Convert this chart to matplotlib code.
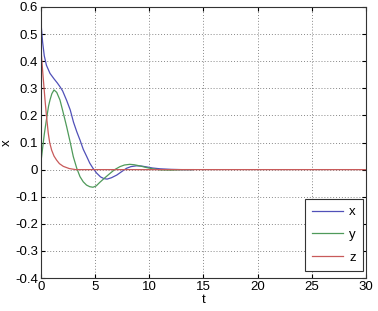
import matplotlib.pyplot as plt

# values
t_x = [0, 0.15, 0.3, 0.5, 0.83, 1.2, 1.5, 1.75, 2.0, 2.37, 2.7, 3.0, 3.3, 3.6, 3.9, 4.2, 4.5,
       4.8, 5.14, 5.5, 5.8, 6.1, 6.5, 7.0, 7.5, 7.9, 8.3, 8.8, 9.3, 9.75, 10.3, 11, 12, 13, 14]
x_vals = [0.54, 0.47, 0.42, 0.385, 0.355, 0.335, 0.32, 0.306, 0.29, 0.255, 0.22, 0.175, 0.14, 0.109,
          0.075, 0.05, 0.024, 0.005, -0.013, -0.027, -0.033, -0.035, -0.03, -0.02, -0.006, 0.005,
          0.011, 0.014, 0.013, 0.01, 0.006, 0.003, 0.001, 0.0, 0.0]

t_y = [0, 0.15, 0.3, 0.52, 0.7, 0.83, 1.0, 1.2, 1.45, 1.75, 2.05, 2.37, 2.7, 2.98, 3.3, 3.6, 3.9,
       4.2, 4.5, 4.8, 5.1, 5.4, 5.9, 6.37, 6.8, 7.29, 7.7, 8.2, 8.6, 9.1, 9.7, 10.3, 11, 12, 13, 14]
y_vals = [0.03, 0.08, 0.13, 0.19, 0.235, 0.257, 0.28, 0.294, 0.285, 0.257, 0.21, 0.158, 0.1, 0.048,
          0.005, -0.026, -0.045, -0.057, -0.063, -0.065, -0.06, -0.048, -0.03, -0.014, 0.0, 0.011,
          0.017, 0.0195, 0.018, 0.014, 0.008, 0.003, -0.001, -0.002, 0.0, 0.0]

t_z = [0, 0.1, 0.2, 0.37, 0.5, 0.67, 0.8, 0.98, 1.2, 1.44, 1.7, 2.06, 2.6, 3.2, 30]
z_vals = [0.44, 0.39, 0.34, 0.257, 0.2, 0.134, 0.1, 0.072, 0.05, 0.035, 0.022, 0.012, 0.004, 0.0, 0.0]

plt.rcParams["font.family"] = ["Liberation Sans", "DejaVu Sans"]

fig = plt.figure(figsize=(3.78, 3.11), dpi=100)
ax = fig.add_axes([0.1085, 0.106, 0.8595, 0.8715])

ax.plot(t_x, x_vals, color="#5050b8", lw=0.9, label="x")
ax.plot(t_y, y_vals, color="#4f9a5a", lw=0.9, label="y")
ax.plot(t_z, z_vals, color="#c85a5a", lw=0.9, label="z")

ax.set_xlim(0, 30)
ax.set_ylim(-0.4, 0.6)
ax.set_xticks([0, 5, 10, 15, 20, 25, 30])
ax.set_yticks([-0.4, -0.3, -0.2, -0.1, 0, 0.1, 0.2, 0.3, 0.4, 0.5, 0.6])
ax.set_yticklabels(["-0.4", "-0.3", "-0.2", "-0.1", "0", "0.1", "0.2", "0.3", "0.4", "0.5", "0.6"])
ax.grid(True, linestyle=(0, (1, 2)), color="#888888", lw=0.7)
ax.tick_params(direction="in", length=3, labelsize=9.5, top=True, right=True, pad=2)
for s in ax.spines.values():
    s.set_color("#333333")
    s.set_linewidth(0.8)

ax.set_xlabel("t", fontsize=9.5, labelpad=1)
ax.set_ylabel("x", fontsize=9.5)
ax.yaxis.set_label_coords(-0.088, 0.5)

leg = ax.legend(loc="lower right", bbox_to_anchor=(0.991, 0.026), borderaxespad=0,
                fontsize=9.5, fancybox=False, framealpha=1, edgecolor="#333333",
                handlelength=2.3, labelspacing=0.8, handletextpad=0.5, borderpad=0.55)
leg.get_frame().set_linewidth(0.8)

fig.savefig("out.png", dpi=100)
